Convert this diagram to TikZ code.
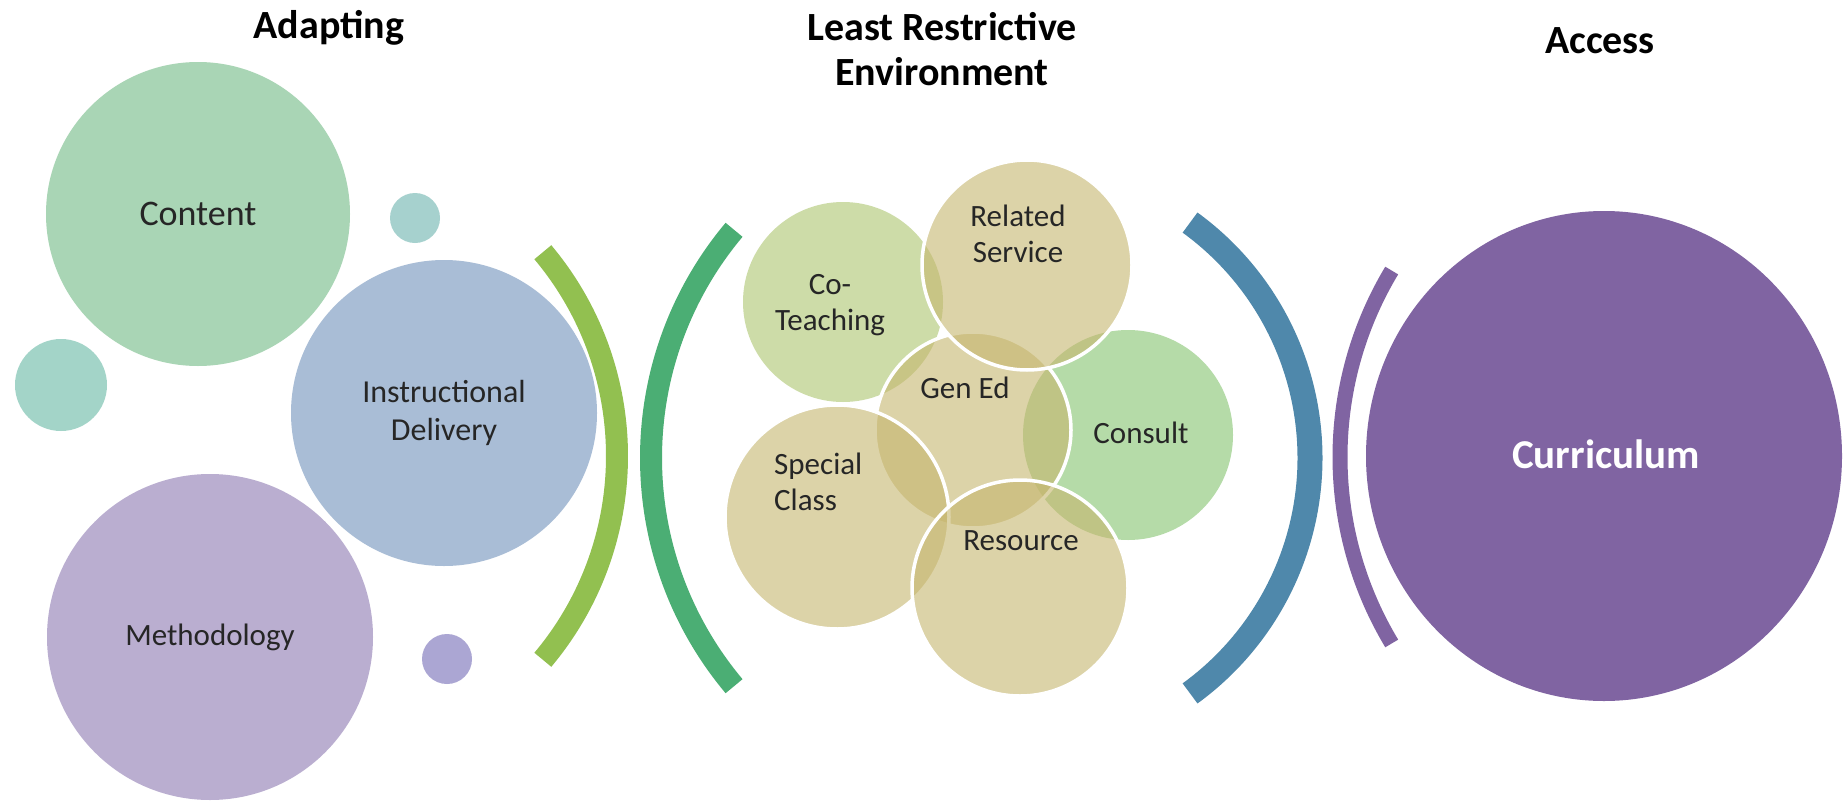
\documentclass[tikz,border=0pt]{standalone}
\usepackage{fontspec}
\setmainfont{Carlito}
\usetikzlibrary{shapes.geometric}
\definecolor{ContentGreen}{HTML}{A9D5B5}
\definecolor{DotTeal}{HTML}{A6D1CE}
\definecolor{DotMint}{HTML}{A3D4C8}
\definecolor{DeliveryBlue}{HTML}{A9BDD6}
\definecolor{MethodLilac}{HTML}{BAAED0}
\definecolor{DotLilac}{HTML}{ABA6D3}
\definecolor{LimeArc}{HTML}{92C050}
\definecolor{GreenArc}{HTML}{4BAE74}
\definecolor{BlueArc}{HTML}{4F88AB}
\definecolor{CurricPurple}{HTML}{8064A2}
\definecolor{SageBase}{RGB}{173,197,110}
\definecolor{TanBase}{RGB}{198,182,110}
\definecolor{MintBase}{RGB}{132,195,110}
\definecolor{LabelGray}{HTML}{262626}

\begin{document}
\begin{tikzpicture}[
	x=1pt, y=-1pt,
	bubble/.style={circle, inner sep=0pt, minimum size=#1},
	venn/.style={circle, inner sep=0pt, minimum size=#1, fill opacity=0.6},
	rim/.style={draw=white, line width=3.5pt},
	lbl/.style={text=LabelGray, align=center, inner sep=0pt, font=\fontsize{31}{36}\selectfont},
	heading/.style={text=black, align=center, inner sep=0pt, font=\bfseries\fontsize{40}{45}\selectfont},
	bracket/.style={line width=#1}
	]
	\useasboundingbox[fill=white] (0,0) rectangle (1845,803);

	\node[heading] (adapt) at (329,28) {Adapting};
	\node[heading] (lre) at (942,49) {Least Restrictive\\Environment};
	\node[heading] (access) at (1600,41) {Access};

	\node[bubble=304, fill=ContentGreen, lbl, font=\fontsize{36}{42}\selectfont] (content) at (198,214) {Content};
	\node[bubble=50, fill=DotTeal] (dottop) at (415,218) {};
	\node[bubble=92, fill=DotMint] (dotleft) at (61,385) {};
	\node[bubble=306, fill=DeliveryBlue, lbl, font=\fontsize{32}{38}\selectfont] (delivery) at (444,413) {Instructional\\Delivery};
	\node[bubble=326, fill=MethodLilac, lbl] (method) at (210,637) {Methodology};
	\node[bubble=50, fill=DotLilac] (dotlow) at (447,659) {};

	\draw[bracket=22, LimeArc] ([shift={(40:317)}]300,456) arc[start angle=40, end angle=-40, radius=317];
	\draw[bracket=22, GreenArc] ([shift={(140:355)}]1006,458) arc[start angle=140, end angle=220, radius=355];
	\draw[bracket=25, BlueArc] ([shift={(54:291)}]1019,458) arc[start angle=54, end angle=-54, radius=291];
	\draw[bracket=15, CurricPurple] ([shift={(149:362)}]1702,457) arc[start angle=149, end angle=211, radius=362];

	\node[venn=200, fill=SageBase] (coteach) at (843,302) {};
	\node[venn=210, fill=MintBase] (consult) at (1128,435) {};
	\node[venn=196, fill=TanBase, rim] (gened) at (973,430) {};
	\node[venn=210, fill=TanBase, rim] (relsvc) at (1027,265) {};
	\node[venn=224, fill=TanBase, rim] (special) at (837,517) {};
	\node[venn=216, fill=TanBase, rim] (resource) at (1020,588) {};

	\node[lbl] (relsvctxt) at (1018,234) {Related\\Service};
	\node[lbl] (coteachtxt) at (830,305) {Co-\\Teaching};
	\node[lbl] (genedtxt) at (965,388) {Gen Ed};
	\node[lbl] (consulttxt) at (1141,433) {Consult};
	\node[lbl, align=left, anchor=west] (specialtxt) at (774,482) {Special\\Class};
	\node[lbl] (resourcetxt) at (1021,541) {Resource};

	\node[ellipse, inner sep=0pt, minimum width=476, minimum height=490, fill=CurricPurple] (curric) at (1604,456) {};
	\node[text=white, font=\bfseries\fontsize{41}{46}\selectfont] (curtxt) at (1606,454) {Curriculum};
\end{tikzpicture}
\end{document}
